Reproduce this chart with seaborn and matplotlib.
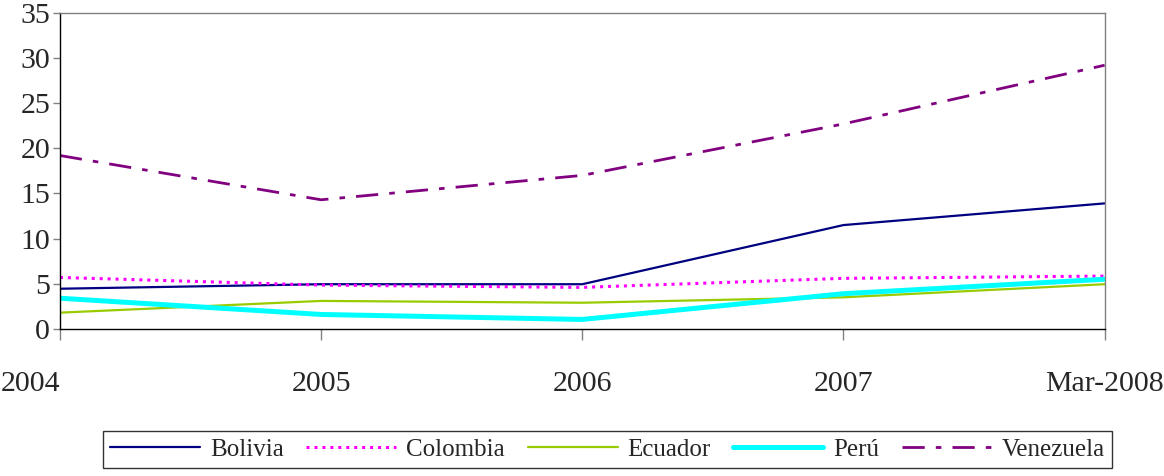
import pandas as pd
import numpy as np
import matplotlib.pyplot as plt
import seaborn as sns

years = ['2004', '2005', '2006', '2007', 'Mar-2008']
bolivia = [4.45, 4.95, 4.95, 11.5, 13.9]
colombia = [5.7, 4.85, 4.6, 5.6, 5.85]
ecuador = [1.8, 3.1, 2.9, 3.5, 4.95]
peru = [3.4, 1.6, 1.05, 3.9, 5.5]
venezuela = [19.2, 14.3, 17.0, 22.7, 29.2]

series = {'Bolivia': bolivia, 'Colombia': colombia, 'Ecuador': ecuador,
          'Perú': peru, 'Venezuela': venezuela}

df = pd.DataFrame([(c, y, v) for c, vals in series.items() for y, v in zip(years, vals)],
                  columns=['country', 'year', 'value'])
df['pos'] = df['year'].map({y: i for i, y in enumerate(years)})

sns.set_style('white')
plt.rcParams['font.family'] = ['Liberation Serif', 'DejaVu Serif']

styles = {
    'Bolivia': dict(color='#000080', lw=1.6, ls='-'),
    'Colombia': dict(color='#FF00FF', lw=2.2, ls=(0, (1, 1.6))),
    'Ecuador': dict(color='#99CC00', lw=1.6, ls='-'),
    'Perú': dict(color='#00FFFF', lw=3.6, ls='-'),
    'Venezuela': dict(color='#800080', lw=2.0, ls=(0, (8, 4, 2, 4))),
}

fig = plt.figure(figsize=(11.64, 4.76), dpi=100)
ax = fig.add_axes([0.0515, 0.309, 0.8975, 0.664])

for name in series:
    st = styles[name]
    sns.lineplot(data=df[df['country'] == name], x='pos', y='value', ax=ax,
                 color=st['color'], linewidth=st['lw'], linestyle=st['ls'], label=name)

ax.set_xlim(0, len(years) - 1)
ax.set_ylim(0, 35)
ax.set_yticks(np.arange(0, 36, 5))
ax.set_xticks(range(len(years)))
ax.set_xticklabels(years)
ax.set_xlabel('')
ax.set_ylabel('')
for s in ax.spines.values():
    s.set_color('#808080')
    s.set_linewidth(1)
ax.spines['left'].set_color('black')
ax.spines['bottom'].set_color('black')
ax.tick_params(axis='y', direction='out', length=5, width=1, color='#808080', labelsize=21.5, pad=2, left=True)
ax.tick_params(axis='x', direction='out', length=8, width=1, color='#808080', labelsize=21.5, pad=22, bottom=True)
# first label sits right-aligned against the left edge, as in the original
ax.get_xticklabels()[0].set_horizontalalignment('right')

ax.get_legend().remove()
handles, labels = ax.get_legend_handles_labels()
leg = fig.legend(handles, labels, loc='center', bbox_to_anchor=(0.522, 0.056), ncol=5,
                 fontsize=18, handlelength=3.6, handletextpad=0.4, columnspacing=0.9,
                 frameon=True, fancybox=False, edgecolor='black', borderpad=0.3)
leg.get_frame().set_linewidth(1)

fig.savefig('out.png', dpi=100)
